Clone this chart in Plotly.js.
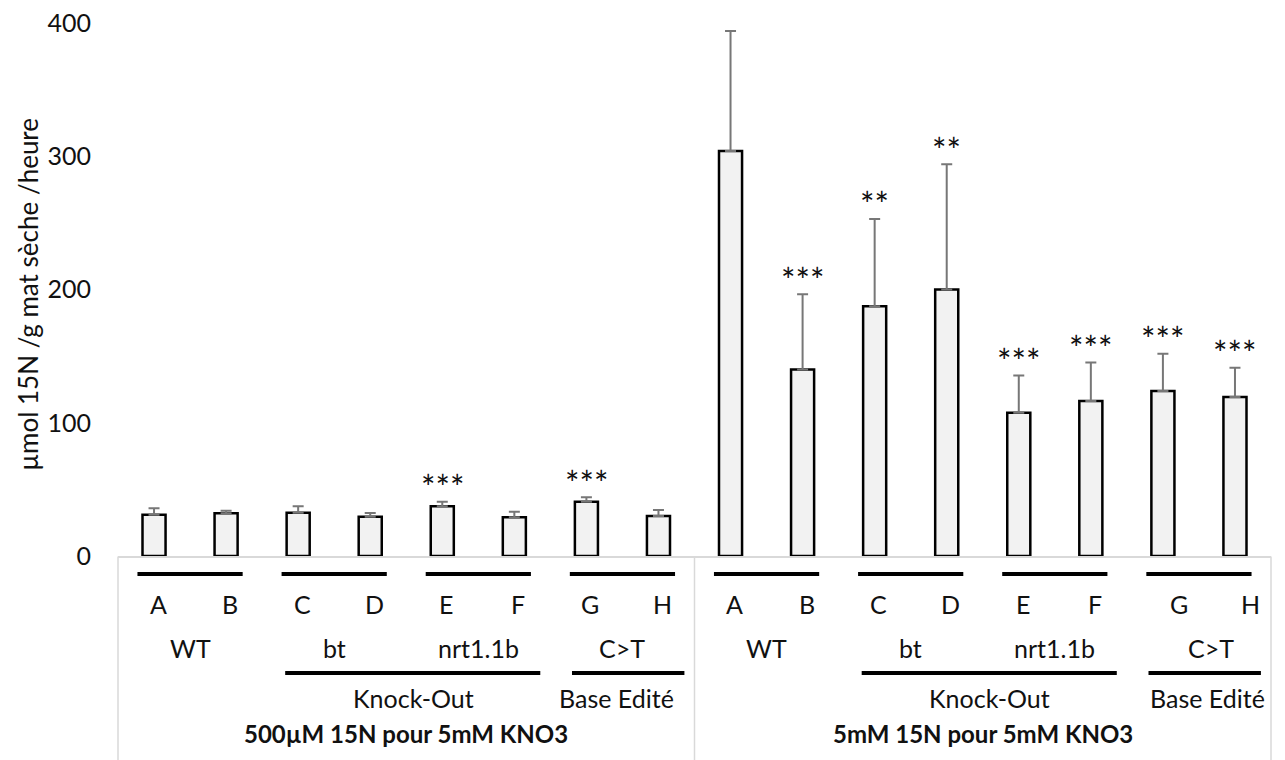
<!DOCTYPE html>
<html>
<head>
<meta charset="utf-8">
<script src="https://cdn.plot.ly/plotly-3.0.1.min.js"></script>
<style>
html,body{margin:0;padding:0;background:#fff;}
#chart{width:1285px;height:760px;}
</style>
</head>
<body>
<div id="chart"></div>
<script>
// ---------- data ----------
const lineLetters = ['A','B','C','D','E','F','G','H','A','B','C','D','E','F','G','H'];
const uptakeMeans = [31, 32, 32.5, 29.5, 37.25, 29, 40.75, 30, 304, 140, 187.5, 200, 107.5, 116.25, 123.75, 119.25];
const uptakeErrors = [4.75, 2, 4.75, 2.75, 3.5, 4.25, 3.25, 4.5, 90, 56.5, 65.5, 94, 28, 29, 28, 22];
const significance = ['', '', '', '', '***', '', '***', '', '', '***', '**', '**', '***', '***', '***', '***'];
const genotypes = ['WT', 'bt', 'nrt1.1b', 'C>T'];
const mutationTypes = ['Knock-Out', 'Base Edité'];
const treatments = ['500µM 15N pour 5mM KNO3', '5mM 15N pour 5mM KNO3'];
const yTickValues = [0, 100, 200, 300, 400];
const yAxisTitle = 'µmol 15N /g mat sèche /heure';

// ---------- layout helpers ----------
const W = 1285, H = 760;
const M = {l: 118, r: 14, t: 23, b: 204};
const plotW = W - M.l - M.r, plotH = H - M.t - M.b;
const N = lineLetters.length;
const xp = u => (u + 0.5) / N;                 // category units -> paper x
const yp = pix => (H - M.b - pix) / plotH;     // pixel y -> paper y
const FONT = 'Lato, "Open Sans", sans-serif';
const TXT = '#111111';
const FS = 25;
// the last pair of the second block is set slightly to the right in the original
const pairShift = (g, k) => (g === 1 && k === 3 ? 12 : 0);

const xIdx = lineLetters.map((_, i) => i);

const trace = {
  type: 'bar',
  x: xIdx,
  y: uptakeMeans,
  width: 0.32,
  marker: {color: '#f2f2f2', line: {color: '#000000', width: 2.5}},
  error_y: {type: 'data', symmetric: false, array: uptakeErrors, arrayminus: uptakeErrors.map(() => 0),
    visible: true, color: '#777777', thickness: 2, width: 5.5},
  hoverinfo: 'skip'
};

const annotations = [];
const shapes = [];

// significance stars
significance.forEach((s, i) => {
  if (!s) return;
  annotations.push({
    x: i, y: uptakeMeans[i] + uptakeErrors[i], xref: 'x', yref: 'y',
    text: s, showarrow: false, xanchor: 'center', yanchor: 'middle', yshift: 15,
    font: {family: FONT, size: 34, color: TXT}
  });
});

// letters row
lineLetters.forEach((L, i) => {
  const g = Math.floor(i / 8), k = Math.floor((i % 8) / 2);
  annotations.push({
    x: xp(i), y: yp(604), xref: 'paper', yref: 'paper', text: L, showarrow: false,
    xanchor: 'center', yanchor: 'middle', xshift: 4 + pairShift(g, k),
    font: {family: FONT, size: FS, color: TXT}
  });
});

for (let g = 0; g < 2; g++) {
  const off = 8 * g;
  // pair underlines + genotype labels
  genotypes.forEach((gt, k) => {
    const c = off + 2 * k + 0.5;
    shapes.push({type: 'line', xref: 'paper', yref: 'paper', x0: xp(c - 0.73), x1: xp(c + 0.73),
      y0: yp(574), y1: yp(574), line: {color: '#000', width: 4}});
    annotations.push({x: xp(c), y: yp(648), xref: 'paper', yref: 'paper', text: gt, showarrow: false,
      xanchor: 'center', yanchor: 'middle', xshift: pairShift(g, k),
      font: {family: FONT, size: FS, color: TXT}});
  });
  // Knock-Out line & label
  shapes.push({type: 'line', xref: 'paper', yref: 'paper', x0: xp(off + 2 - 0.18), x1: xp(off + 5 + 0.36),
    y0: yp(673), y1: yp(673), line: {color: '#000', width: 4}});
  annotations.push({x: xp(off + 3.6), y: yp(698), xref: 'paper', yref: 'paper', text: mutationTypes[0],
    showarrow: false, xanchor: 'center', yanchor: 'middle', font: {family: FONT, size: FS, color: TXT}});
  // Base edité line & label
  shapes.push({type: 'line', xref: 'paper', yref: 'paper', x0: xp(off + 6 - 0.2), x1: xp(off + 7 + 0.36),
    y0: yp(673), y1: yp(673), line: {color: '#000', width: 4}});
  annotations.push({x: xp(off + 6.42 + 0.2 * g), y: yp(698), xref: 'paper', yref: 'paper', text: mutationTypes[1],
    showarrow: false, xanchor: 'center', yanchor: 'middle', bgcolor: '#ffffff',
    font: {family: FONT, size: FS, color: TXT}});
  // treatment label
  annotations.push({x: xp(off + 3.5), y: yp(733), xref: 'paper', yref: 'paper', text: '<b>' + treatments[g] + '</b>',
    showarrow: false, xanchor: 'center', yanchor: 'middle', font: {family: FONT, size: FS - 1, color: TXT}});
}

// table vertical separators
[-0.5, 7.5, 15.5].forEach(u => {
  shapes.push({type: 'line', xref: 'paper', yref: 'paper', x0: xp(u), x1: xp(u), y0: yp(556.5), y1: yp(760),
    line: {color: '#d9d9d9', width: 1.5}, layer: 'below'});
});

// y-axis title
annotations.push({
  x: (28 - M.l) / plotW, y: 0.49, xref: 'paper', yref: 'paper', text: yAxisTitle, showarrow: false,
  textangle: -90, xanchor: 'center', yanchor: 'middle', font: {family: FONT, size: 26, color: TXT}
});

const layout = {
  width: W, height: H,
  margin: M,
  paper_bgcolor: '#ffffff', plot_bgcolor: '#ffffff',
  showlegend: false,
  xaxis: {range: [-0.5, N - 0.5], showticklabels: false, ticks: '', showgrid: false, zeroline: false,
    showline: true, linecolor: '#d9d9d9', linewidth: 2, fixedrange: true},
  yaxis: {range: [0, 400], tickvals: yTickValues, ticktext: yTickValues.map(String), showgrid: false,
    zeroline: false, showline: false, ticks: '', ticklabelstandoff: 26,
    tickfont: {family: FONT, size: FS, color: TXT}, fixedrange: true},
  annotations: annotations,
  shapes: shapes
};

Plotly.newPlot('chart', [trace], layout, {displayModeBar: false, staticPlot: true});
</script>
</body>
</html>
